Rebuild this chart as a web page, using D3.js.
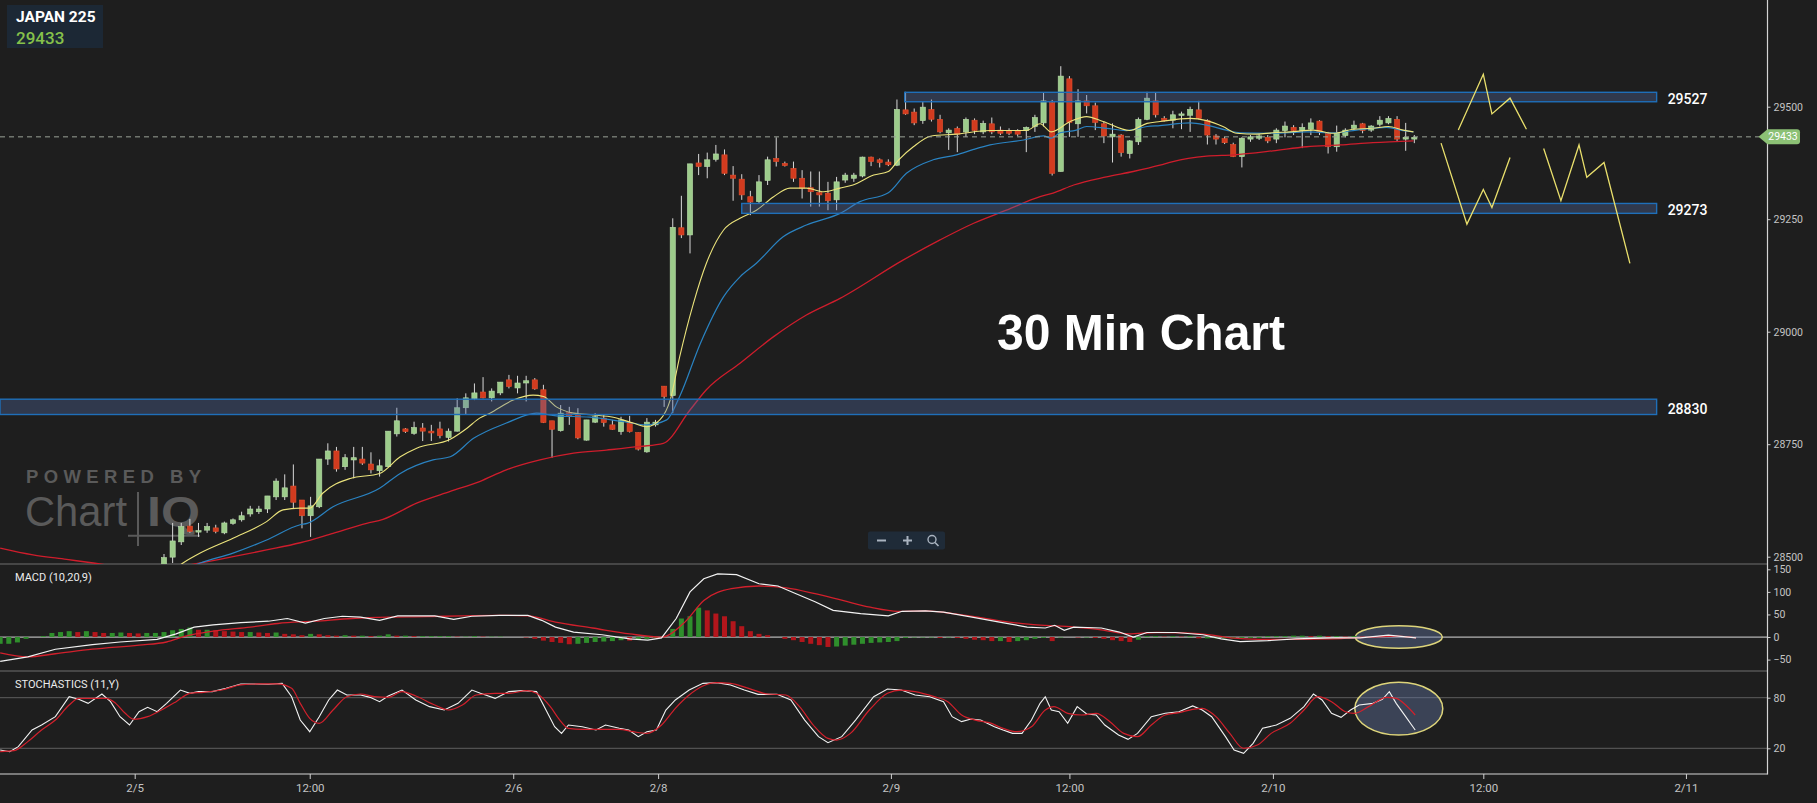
<!DOCTYPE html>
<html><head><meta charset="utf-8">
<script src="https://cdn.jsdelivr.net/npm/d3@7"></script>
<style>
html,body{margin:0;padding:0;background:#1e1e1e;overflow:hidden}
svg{display:block}
</style></head><body>
<svg id="c" width="1817" height="803" font-family="Roboto, 'Liberation Sans', Arial, sans-serif"></svg>
<script>
// ---------------- DATA ----------------
const symbolName = "JAPAN 225";
const lastPrice = 29433;
const chartTitle = "30 Min Chart";

// OHLC, one entry per 30-minute bar (bar index 0..145)
const opens = [28482,28499,28533,28568,28557,28559,28564,28553,28574,28582,28595,28600,28606,28633,28633,28657,28626,28591,28611,28717,
28735,28700,28715,28717,28706,28691,28700,28773,28784,28774,28786,28779,28784,28765,28779,28831,28851,28866,28853,28864,
28893,28875,28886,28893,28871,28802,28780,28820,28815,28759,28799,28808,28793,28778,28798,28776,28733,28793,28879,28858,
29231,29215,29375,29367,29383,29393,29348,29339,29300,29289,29336,29385,29374,29363,29341,29320,29309,29308,29293,29337,
29341,29346,29388,29382,29377,29370,29493,29488,29469,29494,29472,29442,29452,29444,29470,29444,29462,29448,29447,29447,
29447,29456,29464,29509,29356,29562,29462,29513,29502,29462,29433,29437,29396,29422,29472,29513,29474,29470,29483,29481,
29493,29469,29435,29429,29416,29389,29428,29430,29432,29428,29447,29454,29447,29450,29468,29441,29411,29436,29452,29462,
29448,29461,29464,29472,29428,29428];
const highs = [28506,28575,28575,28584,28575,28575,28571,28578,28585,28600,28613,28613,28635,28674,28683,28705,28626,28633,28717,28752,
28744,28728,28744,28744,28732,28716,28779,28831,28786,28800,28797,28793,28800,28785,28852,28863,28885,28899,28874,28888,
28904,28902,28902,28897,28882,28802,28837,28833,28830,28804,28819,28815,28804,28811,28813,28776,28808,28804,28879,29252,
29302,29373,29395,29398,29415,29405,29368,29350,29313,29348,29389,29432,29378,29378,29359,29356,29356,29333,29344,29353,
29353,29389,29389,29385,29383,29516,29533,29496,29511,29516,29482,29452,29456,29476,29474,29469,29476,29456,29452,29450,
29456,29482,29532,29515,29590,29568,29539,29526,29509,29467,29463,29439,29426,29476,29533,29531,29479,29491,29489,29500,
29513,29472,29439,29433,29420,29432,29437,29439,29437,29452,29467,29459,29463,29474,29470,29444,29458,29452,29469,29464,
29459,29479,29479,29479,29464,29437];
const lows = [28476,28486,28526,28553,28544,28553,28552,28550,28571,28578,28589,28595,28597,28626,28626,28608,28563,28544,28608,28704,
28689,28693,28674,28704,28685,28678,28699,28767,28775,28771,28757,28757,28763,28756,28778,28815,28848,28852,28845,28859,
28874,28863,28845,28871,28797,28720,28778,28793,28761,28758,28797,28789,28782,28771,28776,28736,28731,28789,28833,28819,
29208,29174,29348,29341,29378,29348,29291,29293,29259,29285,29326,29367,29367,29333,29296,29278,29278,29270,29270,29331,
29333,29343,29368,29365,29368,29368,29482,29459,29462,29467,29441,29404,29399,29433,29439,29439,29439,29437,29437,29435,
29399,29444,29456,29347,29356,29433,29433,29485,29448,29419,29376,29389,29385,29415,29470,29476,29467,29452,29450,29444,
29472,29416,29416,29417,29388,29365,29422,29426,29419,29419,29432,29437,29408,29437,29437,29396,29400,29432,29448,29441,
29444,29456,29461,29422,29402,29419];
const closes = [28498,28535,28567,28556,28558,28567,28556,28575,28582,28591,28606,28606,28635,28668,28653,28621,28591,28613,28717,28735,
28695,28720,28720,28708,28693,28702,28779,28802,28778,28787,28779,28775,28769,28779,28831,28853,28864,28853,28868,28888,
28878,28886,28891,28873,28798,28783,28819,28813,28764,28804,28811,28798,28783,28804,28778,28739,28799,28799,28856,29232,
29215,29373,29367,29382,29395,29352,29341,29304,29288,29333,29382,29378,29369,29341,29319,29311,29304,29291,29333,29348,
29348,29388,29378,29376,29371,29494,29484,29464,29499,29472,29444,29448,29439,29472,29447,29463,29444,29441,29441,29439,
29454,29476,29513,29352,29568,29465,29513,29502,29465,29435,29439,29398,29424,29472,29519,29482,29469,29482,29484,29494,
29474,29437,29428,29420,29389,29430,29433,29435,29424,29448,29457,29447,29454,29464,29444,29411,29441,29448,29459,29447,
29457,29470,29474,29428,29432,29432];

// Moving averages: [bar index, price]
const maFast = [[0,28455],[2.2,28486],[4.2,28508],[8,28541],[11.9,28578],[13.8,28604],[15.8,28608],[16.9,28608],[18.4,28641],[21.6,28674],
[25,28685],[27.4,28722],[29.3,28741],[33.2,28761],[35.1,28785],[36.6,28808],[37.8,28819],[40.5,28848],[42.8,28859],[44,28856],
[45.5,28833],[47.5,28819],[49.8,28815],[52.1,28810],[54.4,28797],[56,28789],[57.5,28804],[58.7,28848],[59.8,28944],[61.4,29063],
[62.9,29152],[64.9,29226],[66.8,29252],[68.7,29270],[70.7,29300],[72.6,29319],[74.5,29319],[76.5,29311],[78.4,29319],[79.9,29326],
[82.3,29348],[84,29356],[85.2,29382],[86.9,29411],[89,29435],[91.9,29439],[95.8,29447],[100,29447],[101.6,29462],[102.9,29444],
[105.1,29467],[107,29478],[108.9,29467],[112,29447],[114,29463],[115.5,29467],[119,29474],[120.9,29469],[122.8,29456],[124.4,29441],
[126.7,29439],[128.6,29442],[130.6,29444],[133.3,29448],[135.6,29441],[137.9,29450],[140.2,29452],[142,29456],[143.7,29448],[144.9,29444]];
const maMid = [[1,28460],[4.2,28486],[8,28508],[11.9,28537],[15.8,28571],[16.6,28574],[19.6,28611],[25,28652],[27.4,28685],[31.2,28715],
[33.2,28722],[35.9,28763],[39.7,28797],[43.2,28819],[45.5,28813],[49.4,28810],[53.3,28800],[56,28793],[58.3,28804],[59.8,28856],
[62.2,28974],[64.9,29078],[66.8,29122],[68.7,29152],[71.8,29211],[74.5,29237],[78.4,29263],[80.7,29289],[84,29309],[86.1,29352],
[89.2,29382],[91.9,29393],[93.9,29405],[95.8,29415],[99.7,29426],[102,29435],[102.9,29430],[103.9,29442],[105.8,29448],[107,29456],
[109.3,29452],[111.6,29447],[114,29456],[115.5,29458],[119,29464],[120.9,29459],[123.2,29448],[124.8,29442],[128.6,29441],[132.5,29444],
[135.6,29442],[138.3,29448],[141.8,29454],[143.7,29447],[144.9,29444]];
const maSlow = [[-19,28519],[-15.2,28504],[-11.3,28494],[-8.2,28486],[-1.6,28471],[4.2,28486],[8,28500],[11.9,28515],[15.8,28531],[19.6,28552],
[23.5,28574],[25.4,28583],[29.3,28619],[33.2,28645],[36.6,28667],[39.7,28693],[43.6,28715],[47.5,28730],[51.3,28737],[55.2,28745],
[57.9,28752],[61,28826],[62.9,28871],[66.8,28930],[70.7,28989],[74.5,29037],[78.4,29074],[85.7,29159],[90,29204],[93.9,29241],
[97.7,29270],[101.6,29300],[103.1,29308],[105.5,29326],[109.3,29344],[112.4,29356],[115.5,29370],[117,29378],[120.9,29390],[124,29393],
[128.6,29402],[132.5,29411],[136.4,29415],[140.2,29420],[144.9,29424]];

// MACD (10,20,9): [bar index, value]
const macdLine = [[-19,-54],[-15.8,-44],[-12.6,-27],[-8.3,-17],[-5.1,-11],[-0.8,-5],[1.4,7],[3.5,22],[5.7,27],[8.9,32],
[12.1,35],[14.3,41],[16.4,31],[18.6,41],[20.7,46],[22.8,44],[25,37],[27.1,47],[31.4,47],[33.6,39],
[35.7,46],[38.9,48],[42.2,48],[43.8,37],[45.4,22],[47.5,11],[50.8,5],[54,-4],[56.1,-7],[57.7,-2],
[59.4,41],[61,100],[62.6,129],[64.2,140],[66.4,138],[69,118],[71.2,113],[73.3,96],[75.5,78],[77.6,59],
[80.8,52],[84,47],[85.6,57],[88.3,58],[90.4,55],[93.7,44],[96.9,33],[100.1,22],[102.2,20],[103.3,26],
[104.4,15],[105.5,22],[108.7,20],[110.8,11],[112.4,0],[114,10],[117.3,10],[120.5,5],[122.6,-4],[124.8,-10],
[128,-8],[131.2,-4],[135.5,-2],[138.7,-2],[142,4],[145.2,-2]];
const signalLine = [[-19,-35],[-15.8,-44],[-12.6,-37],[-8.3,-27],[-2.9,-18],[0.3,-11],[2.5,2],[5.7,13],[10,22],[13.2,30],
[17.5,35],[21.8,41],[26.1,44],[30.4,45],[34.6,47],[38.9,48],[42.2,47],[45.4,33],[49.7,20],[54,7],
[57.7,0],[60.4,33],[62.6,81],[65.8,107],[69,113],[72.2,109],[75.5,96],[78.7,81],[81.9,66],[85.1,57],
[88.3,58],[91.5,52],[94.7,43],[98,33],[101.2,27],[105.5,22],[108.7,16],[111.9,7],[115.1,10],[118.3,9],
[121.6,4],[123.7,-2],[127,-5],[131.2,-5],[135.5,-4],[139.8,0],[143,2],[145.2,-2]];
const histStart = -19; // bar index of first histogram value
const histogram = [-15,-15,-12,-4,0,2,9,11,13,11,
13,11,9,9,10,9,8,9,9,11,
15,18,21,16,16,15,13,12,11,11,
10,9,10,7,6,4,7,6,4,3,
4,3,3,2,3,6,3,3,2,2,
2,2,2,1,1,2,1,1,1,0,
0,-1,-4,-8,-11,-13,-16,-15,-13,-11,
-10,-9,-7,-8,-6,-4,-2,1,18,41,
46,65,59,52,46,35,24,13,7,4,
0,-4,-7,-11,-15,-18,-22,-21,-19,-17,
-15,-13,-12,-11,-9,-2,-1,-1,-1,-2,
-1,-2,-4,-6,-7,-9,-9,-11,-9,-7,
-4,-2,-9,-1,0,-1,-1,-2,-4,-7,
-9,-11,-6,2,2,1,2,1,2,-3,
-3,-3,-3,-3,-3,-2,-2,2,2,2,
3,3,2,3,2,2,1,2,1,1,
1,2,1,1,0];

// Stochastics (11,Y): [bar index, value]
const stochK = [[-19,18],[-17.9,16],[-16.9,21.9],[-15.3,41.7],[-14.2,47.6],[-12.6,57.5],[-11,81.2],[-9.9,78.1],[-8.8,73.3],[-7.2,84.4],
[-6.2,75.3],[-5.1,57.5],[-4,47.6],[-2.9,63.4],[-1.9,68.6],[-0.8,63.4],[0.3,73.3],[1.9,89.1],[3,85.2],[4,87.2],
[5.6,87.2],[7.2,91.1],[8.9,96.3],[10.5,96.3],[12.1,95.9],[13.7,97],[14.8,81.2],[15.8,53.5],[16.9,39.7],[18,57.5],
[19.1,77.3],[20.1,89.1],[21.2,83.2],[22.8,83.2],[23.9,80.4],[25,75.3],[26,82],[27.6,89.1],[29.2,77.3],[30.8,69.4],
[32.5,65.4],[34.1,73.3],[35.7,89.1],[36.7,85.2],[38.4,79.2],[40,87.2],[41.6,88.4],[43.2,87.2],[44.3,65.4],[45.3,45.6],
[46.1,37.7],[46.9,47.6],[48.5,45.6],[50.1,41.7],[51.2,47.6],[52.8,43.7],[53.9,41.7],[55,33.8],[56,39.7],[57.1,41.7],
[58.2,65.4],[59.3,77.3],[60.9,89.1],[62.5,97],[64.1,97.9],[65.7,95.1],[67.3,89.1],[68.9,84],[71.1,84],[72.7,77.3],
[74.3,53.5],[75.9,33.8],[77,26.7],[78.6,33.8],[80.2,53.5],[82.3,81.2],[83.9,90.3],[85.5,89.1],[87.1,83.2],[88.8,81.2],
[90.4,75.3],[91.4,57.5],[92.5,51.6],[93.6,54.7],[94.7,53.5],[96.3,45.6],[97.3,41.7],[98.4,37.7],[99.5,37.7],[100.6,53.5],
[101.6,73.3],[102.2,81.2],[102.9,65.4],[103.8,63.4],[104.8,49.6],[105.9,69.4],[107,60.7],[108.1,59.5],[109.1,47.6],[110.7,35.8],
[111.8,30.6],[112.9,37.7],[114.5,57.5],[116.1,61.5],[117.7,63.4],[119.3,70.2],[120.4,65.4],[121.5,57.5],[123.1,33.8],[124.1,18],
[125.2,14],[126.3,25.9],[127.4,43.7],[129,47.6],[130.6,55.5],[132.2,69.4],[133.3,84.4],[134.3,77.3],[135.4,61.5],[136.5,56.7],
[137.6,65.4],[138.6,71.3],[140.2,73.3],[141.3,78.1],[142.1,87.2],[142.9,73.3],[144,57.5],[145.1,41.7]];
const stochD = [[-19,16],[-17.4,17.2],[-15.8,27.9],[-14.2,41.7],[-12.6,53.5],[-11,71.3],[-9.9,79.2],[-8.3,79.2],[-6.7,79.2],[-5.6,73.3],
[-4.5,61.5],[-3.5,54.3],[-1.9,57.5],[-0.3,65.4],[1.4,75.3],[3,85.2],[4.6,86.4],[6.7,89.1],[8.9,95.1],[11,96.3],
[13.1,96.3],[14.8,91.1],[15.8,73.3],[16.9,55.5],[18,49.6],[19.6,65.4],[21.2,81.2],[22.8,84.4],[24.4,81.2],[26,80.4],
[27.6,87.2],[29.2,82],[31.4,71.3],[33,65.4],[34.6,71.3],[36.2,83.2],[38.4,85.2],[40,85.2],[42.1,88.4],[43.2,85.2],
[44.8,69.4],[45.9,53.5],[46.9,43.7],[48.5,42.5],[50.7,42.5],[52.8,42.5],[54.4,39.7],[56,37.7],[57.7,47.6],[59.3,67.4],
[60.9,83.2],[62.5,93.9],[64.1,97.9],[65.7,97],[67.8,91.1],[70,84.4],[72.1,83.2],[73.7,69.4],[75.3,47.6],[77,31.8],
[78,29.8],[79.6,37.7],[81.8,65.4],[83.9,85.2],[85.5,89.1],[87.1,87.2],[89.3,81.2],[90.9,75.3],[92.5,59.5],[94.1,53.5],
[95.7,50.4],[97.3,43.7],[98.9,39.7],[100.6,45.6],[102.2,65.4],[103.2,69.4],[104.8,61.5],[106.4,59.5],[108.1,61.5],[109.7,51.6],
[111.3,37.7],[112.9,33.8],[114.5,47.6],[116.1,59.5],[117.7,62.3],[119.3,66.2],[120.4,67.4],[122,57.5],[123.6,37.7],[125.2,19.9],
[126.8,23.9],[128.4,37.7],[130.6,49.6],[132.2,65.4],[133.8,81.2],[135.4,75.3],[137,63.4],[138.1,61.5],[139.7,69.4],[141.8,80.4],
[142.9,79.2],[144,71.3],[145.1,59.5]];

// Support / resistance zones
const zoneLabels = ["29527","29273","28830"];
const zoneLow    = [29511, 29263, 28816];
const zoneHigh   = [29532, 29285, 28850];
const zoneFrom   = [85.9, 67.0, -19.02];
const zoneTo     = [173.1, 173.1, 173.1];

// Hand-drawn projection paths [bar index, price]
const projA = [[150.1,29448],[153,29572],[154,29484],[156.1,29519],[158,29450]];
const projB = [[148.1,29419],[151.1,29239],[153,29316],[154,29276],[156.1,29387]];
const projC = [[160,29407],[162,29291],[164.1,29415],[165,29343],[167,29376],[170,29152]];

// Axis ticks
const priceTicks = [28500,28750,29000,29250,29500];
const macdTicks = [-50,0,50,100,150];
const stochTicks = [20,80];
const timeTickPos = [-3.4,16.9,40.5,57.3,84.3,105,128.6,153,176.5];
const timeTickLabels = ["2/5","12:00","2/6","2/8","2/9","12:00","2/10","12:00","2/11"];

// Highlight ellipses [bar index, value, radius bars, radius value]
const macdMark = [143.2, 0, 5.05, 25];
const stochMark = [143.2, 67, 5.1, 31.3];

// ---------------- LAYOUT ----------------
const AX = 1767.5;
const MAIN = [0, 564];
const MACDP = [564, 671];
const STOP = [671, 774];

const svg = d3.select("#c");
const x = d3.scaleLinear().domain([-19.02, 185.9]).range([0, 1767]);
const yP = d3.scaleLinear().domain([28500, 29500]).range([556.7, 106.7]);
const yM = d3.scaleLinear().domain([-50, 150]).range([659.6, 569.3]);
const yS = d3.scaleLinear().domain([20, 80]).range([748.3, 697.7]);

svg.append("rect").attr("width",1817).attr("height",803).attr("fill","#1e1e1e");

const defs = svg.append("defs");
function clip(id, y0, y1){
  defs.append("clipPath").attr("id",id).append("rect").attr("x",0).attr("y",y0).attr("width",AX).attr("height",y1-y0);
}
clip("cMain", MAIN[0], MAIN[1]); clip("cMacd", MACDP[0], MACDP[1]); clip("cSto", STOP[0], STOP[1]);

// watermark
const wm = svg.append("g").attr("fill","#5a5a5a");
wm.append("text").attr("x",26).attr("y",482.5).style("font-family","'Liberation Sans', Arial, sans-serif")
  .attr("font-weight",700).attr("font-size",18.5).attr("textLength",175).attr("lengthAdjust","spacing").text("POWERED BY");
wm.append("text").attr("x",25).attr("y",525.7).style("font-family","'Liberation Sans', Arial, sans-serif")
  .attr("font-weight",400).attr("font-size",42.5).attr("textLength",102).attr("lengthAdjust","spacingAndGlyphs").text("Chart");
wm.append("text").attr("x",147).attr("y",525.7).style("font-family","'Liberation Sans', Arial, sans-serif")
  .attr("font-weight",700).attr("font-size",42.5).attr("textLength",53).attr("lengthAdjust","spacingAndGlyphs").text("IQ");
wm.append("line").attr("x1",138).attr("x2",138).attr("y1",492).attr("y2",546).attr("stroke","#5a5a5a").attr("stroke-width",2);
wm.append("line").attr("x1",128).attr("x2",200).attr("y1",535.7).attr("y2",535.7).attr("stroke","#5a5a5a").attr("stroke-width",2);

// panel separators and guide lines
svg.append("line").attr("x1",0).attr("x2",AX).attr("y1",564).attr("y2",564).attr("stroke","#6e6e6e");
svg.append("line").attr("x1",0).attr("x2",AX).attr("y1",671).attr("y2",671).attr("stroke","#6e6e6e");
stochTicks.forEach(v=>svg.append("line").attr("x1",0).attr("x2",AX).attr("y1",yS(v)).attr("y2",yS(v)).attr("stroke","#5e5e5e"));

// ---------------- MAIN PANEL ----------------
const gMain = svg.append("g").attr("clip-path","url(#cMain)");
const idx = d3.range(opens.length);
const gC = gMain.append("g");
gC.selectAll("line.w").data(idx).join("line")
  .attr("x1",i=>x(i)).attr("x2",i=>x(i)).attr("y1",i=>yP(highs[i])).attr("y2",i=>yP(lows[i]))
  .attr("stroke","#d8d8d8").attr("stroke-width",1);
gC.selectAll("rect.b").data(idx).join("rect")
  .attr("x",i=>x(i)-2.6).attr("width",5.2)
  .attr("y",i=>yP(Math.max(opens[i],closes[i])))
  .attr("height",i=>Math.max(1.5, Math.abs(yP(opens[i])-yP(closes[i]))))
  .attr("fill",i=>closes[i]>=opens[i]?"#9dcc8b":"#d23b1f")
  .attr("stroke",i=>closes[i]>=opens[i]?"#b9deaa":"#e2502e").attr("stroke-width",0.6);

const lineP = d3.line().x(d=>x(d[0])).y(d=>yP(d[1])).curve(d3.curveMonotoneX);
gMain.append("path").attr("d",lineP(maSlow)).attr("fill","none").attr("stroke","#cf1d2c").attr("stroke-width",1.3);
gMain.append("path").attr("d",lineP(maMid)).attr("fill","none").attr("stroke","#2a83c2").attr("stroke-width",1.2);
gMain.append("path").attr("d",lineP(maFast)).attr("fill","none").attr("stroke","#ece47c").attr("stroke-width",1.1);

// zones
zoneLabels.forEach((lab,k)=>{
  const y0 = yP(zoneHigh[k]), y1 = yP(zoneLow[k]);
  gMain.append("rect").attr("x",x(zoneFrom[k])).attr("y",y0).attr("width",x(zoneTo[k])-x(zoneFrom[k])).attr("height",y1-y0)
    .attr("fill","rgba(85,110,170,0.34)").attr("stroke","#1f6fb9").attr("stroke-width",1.4);
  svg.append("text").attr("x",x(zoneTo[k])+11).attr("y",(y0+y1)/2+2).attr("dominant-baseline","central")
    .attr("fill","#ffffff").attr("font-size",14).attr("font-weight",500).text(lab);
});

// last price dashed line
svg.append("line").attr("x1",0).attr("x2",AX-8).attr("y1",yP(lastPrice)).attr("y2",yP(lastPrice))
  .attr("stroke","#9aa397").attr("stroke-dasharray","5,4").attr("stroke-width",1);

// projections
const lineL = d3.line().x(d=>x(d[0])).y(d=>yP(d[1]));
[projA,projB,projC].forEach(p=>svg.append("path").attr("d",lineL(p)).attr("fill","none").attr("stroke","#e9df6c").attr("stroke-width",1.3));

// title
svg.append("text").attr("x",997).attr("y",349.5).style("font-family","'Liberation Sans', Arial, sans-serif")
  .attr("font-weight",700).attr("font-size",50).attr("textLength",288).attr("lengthAdjust","spacingAndGlyphs")
  .attr("fill","#ffffff").text(chartTitle);

// ---------------- MACD PANEL ----------------
const gM = svg.append("g").attr("clip-path","url(#cMacd)");
gM.append("line").attr("x1",0).attr("x2",AX).attr("y1",yM(0)).attr("y2",yM(0)).attr("stroke","#b5b5b5").attr("stroke-width",1.2);
gM.append("ellipse").attr("cx",x(macdMark[0])).attr("cy",yM(macdMark[1]))
  .attr("rx",x(macdMark[0]+macdMark[2])-x(macdMark[0])).attr("ry",yM(0)-yM(macdMark[3]))
  .attr("fill","rgba(100,120,165,0.42)").attr("stroke","#ddd47a").attr("stroke-width",1.5);
gM.selectAll("rect.h").data(histogram).join("rect")
  .attr("x",(d,i)=>x(i+histStart)-2.5).attr("width",5)
  .attr("y",d=>Math.min(yM(d),yM(0))).attr("height",d=>Math.abs(yM(d)-yM(0)))
  .attr("fill",(d,i)=> (i===0 || d>=histogram[i-1]) ? "#2f8f2c" : "#b3161c");
gM.append("path").attr("d",d3.line().x(d=>x(d[0])).y(d=>yM(d[1])).curve(d3.curveMonotoneX)(signalLine)).attr("fill","none").attr("stroke","#d2202c").attr("stroke-width",1.3);
gM.append("path").attr("d",d3.line().x(d=>x(d[0])).y(d=>yM(d[1]))(macdLine)).attr("fill","none").attr("stroke","#f2f2f2").attr("stroke-width",1.2);
svg.append("text").attr("x",15).attr("y",581).attr("fill","#ececec").attr("font-size",11).text("MACD (10,20,9)");

// ---------------- STOCH PANEL ----------------
const gS = svg.append("g").attr("clip-path","url(#cSto)");
gS.append("ellipse").attr("cx",x(stochMark[0])).attr("cy",yS(stochMark[1]))
  .attr("rx",x(stochMark[0]+stochMark[2])-x(stochMark[0])).attr("ry",yS(0)-yS(stochMark[3]))
  .attr("fill","rgba(100,120,165,0.42)").attr("stroke","#ddd47a").attr("stroke-width",1.5);
gS.append("path").attr("d",d3.line().x(d=>x(d[0])).y(d=>yS(d[1]))(stochK)).attr("fill","none").attr("stroke","#f2f2f2").attr("stroke-width",1.1);
gS.append("path").attr("d",d3.line().x(d=>x(d[0])).y(d=>yS(d[1])).curve(d3.curveMonotoneX)(stochD)).attr("fill","none").attr("stroke","#d2202c").attr("stroke-width",1.2);
svg.append("text").attr("x",15).attr("y",688).attr("fill","#ececec").attr("font-size",11).text("STOCHASTICS (11,Y)");

// ---------------- AXES ----------------
function styleAxis(g){
  g.select(".domain").remove();
  g.selectAll(".tick line").attr("stroke","#cfcfcf");
  g.selectAll(".tick text").attr("fill","#c4c4c4").attr("font-size",10.5).style("font-family","Roboto, Arial, sans-serif");
}
svg.append("g").attr("transform",`translate(${AX},0)`).call(d3.axisRight(yP).tickValues(priceTicks).tickSize(3).tickPadding(3).tickFormat(d3.format("d"))).call(styleAxis);
svg.append("g").attr("transform",`translate(${AX},0)`).call(d3.axisRight(yM).tickValues(macdTicks).tickSize(3).tickPadding(3)).call(styleAxis);
svg.append("g").attr("transform",`translate(${AX},0)`).call(d3.axisRight(yS).tickValues(stochTicks).tickSize(3).tickPadding(3)).call(styleAxis);
svg.append("g").attr("transform","translate(0,774)").call(d3.axisBottom(x).tickValues(timeTickPos).tickSize(5).tickPadding(5).tickFormat((d,i)=>timeTickLabels[i])).call(styleAxis)
  .selectAll(".tick text").attr("font-size",11.5);
svg.append("line").attr("x1",AX).attr("x2",AX).attr("y1",0).attr("y2",774.5).attr("stroke","#d4d4d4").attr("stroke-width",1.2);
svg.append("line").attr("x1",0).attr("x2",AX).attr("y1",774).attr("y2",774).attr("stroke","#d4d4d4").attr("stroke-width",1.2);

// last-price tag
const ty = yP(lastPrice);
svg.append("path").attr("d",`M${AX-9},${ty} L${AX},${ty-7.5} H1797 Q1800,${ty-7.5} 1800,${ty-4.5} V${ty+4.5} Q1800,${ty+7.5} 1797,${ty+7.5} H${AX} Z`)
  .attr("fill","#8cc175");
svg.append("text").attr("x",1783).attr("y",ty).attr("dominant-baseline","central").attr("text-anchor","middle")
  .attr("fill","#ffffff").attr("font-size",10.5).text(String(lastPrice));

// symbol box
svg.append("rect").attr("x",7).attr("y",5).attr("width",96).attr("height",43).attr("fill","#1c2835");
svg.append("text").attr("x",16).attr("y",21.5).attr("fill","#ffffff").attr("font-weight",700).attr("font-size",15.5).text(symbolName);
svg.append("text").attr("x",16).attr("y",44).attr("fill","#86c14a").attr("font-weight",500).attr("font-size",17).text(String(lastPrice));

// zoom controls
const zc = svg.append("g");
zc.append("rect").attr("x",868).attr("y",531.5).attr("width",77).attr("height",18).attr("rx",2).attr("fill","#1f2b38");
zc.append("line").attr("x1",877).attr("x2",886).attr("y1",540.5).attr("y2",540.5).attr("stroke","#a9b3bf").attr("stroke-width",2);
zc.append("line").attr("x1",903).attr("x2",912).attr("y1",540.5).attr("y2",540.5).attr("stroke","#a9b3bf").attr("stroke-width",2);
zc.append("line").attr("x1",907.5).attr("x2",907.5).attr("y1",536).attr("y2",545).attr("stroke","#a9b3bf").attr("stroke-width",2);
zc.append("circle").attr("cx",932).attr("cy",539.5).attr("r",4).attr("fill","none").attr("stroke","#a9b3bf").attr("stroke-width",1.4);
zc.append("line").attr("x1",935).attr("x2",938.5).attr("y1",542.5).attr("y2",546).attr("stroke","#a9b3bf").attr("stroke-width",1.6);
</script></body></html>
